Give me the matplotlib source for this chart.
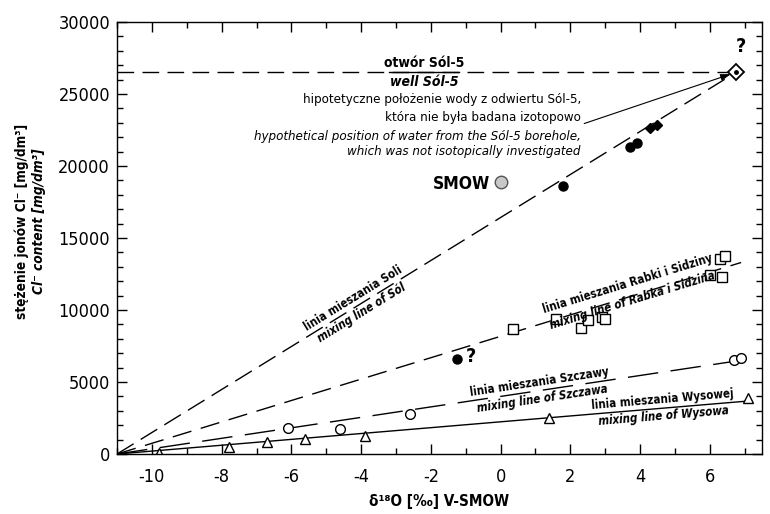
import numpy as np
import matplotlib
matplotlib.use("Agg")
import matplotlib.pyplot as plt
from matplotlib import font_manager
from matplotlib.ticker import MultipleLocator

# pick a narrow sans font if one is installed
names = {f.name for f in font_manager.fontManager.ttflist}
condensed = [f for f in font_manager.fontManager.ttflist
             if "condensed" in f.fname.lower() or "narrow" in f.fname.lower()]
if "Liberation Sans Narrow" in names:
    FONT = ["Liberation Sans Narrow", "DejaVu Sans"]
    STRETCH = "normal"
elif any(f.name == "DejaVu Sans" for f in condensed):
    FONT = ["DejaVu Sans"]
    STRETCH = "condensed"
else:
    FONT = ["Liberation Sans", "DejaVu Sans"]
    STRETCH = "normal"
plt.rcParams["font.family"] = FONT
plt.rcParams["font.stretch"] = STRETCH
plt.rcParams["axes.unicode_minus"] = False

# --- data ---
# Sól (filled circles / filled diamonds)
sol_circ_x = [1.8, 3.7, 3.9]
sol_circ_y = [18600, 21300, 21600]
sol_diam_x = [4.3, 4.5]
sol_diam_y = [22650, 22850]
sol5_x, sol5_y = 6.75, 26500          # hypothetical Sól-5 position
unk_x, unk_y = -1.25, 6600            # filled circle with "?"
smow_x, smow_y = 0.0, 18900

# Rabka i Sidzina (open squares)
rab_x = [0.35, 1.6, 2.3, 2.5, 2.9, 3.0, 6.0, 6.35, 6.3, 6.45]
rab_y = [8700, 9400, 8750, 9300, 9500, 9400, 12450, 12300, 13550, 13750]

# Szczawa (open circles)
szc_x = [-6.1, -4.6, -2.6, 6.7, 6.9]
szc_y = [1800, 1750, 2800, 6550, 6700]

# Wysowa (open triangles)
wys_x = [-9.8, -7.8, -6.7, -5.6, -3.9, 1.4, 7.1]
wys_y = [100, 500, 800, 1050, 1250, 2500, 3900]

# mixing lines: common start and end points
mix_start = (-11.0, 0)
sol_end = (6.75, 26500)
rab_end = (6.9, 13300)
szc_end = (7.1, 6580)
wys_end = (7.2, 3700)

fig = plt.figure(figsize=(7.7, 5.14), dpi=100)
ax = fig.add_axes([0.152, 0.1167, 0.8377, 0.8405])
ax.set_xlim(-11, 7.5)
ax.set_ylim(0, 30000)

# mixing lines
ax.plot([mix_start[0], sol_end[0]], [mix_start[1], sol_end[1]], color="black", lw=1.0, dashes=(14, 6))
ax.plot([mix_start[0], rab_end[0]], [mix_start[1], rab_end[1]], color="black", lw=1.0, dashes=(14, 7))
ax.plot([mix_start[0], szc_end[0]], [mix_start[1], szc_end[1]], color="black", lw=1.0, dashes=(22, 9))
ax.plot([mix_start[0], wys_end[0]], [mix_start[1], wys_end[1]], color="black", lw=1.0)

# horizontal line for well Sól-5
ax.plot([-11, sol5_x], [sol5_y, sol5_y], color="black", lw=1.0, dashes=(12, 6))
ax.plot([-3.2, -1.2], [sol5_y, sol5_y], color="black", lw=1.0)

# points
ax.plot(sol_circ_x, sol_circ_y, "o", color="black", ms=6.5)
ax.plot(sol_diam_x, sol_diam_y, "D", color="black", ms=5.5)
ax.plot(unk_x, unk_y, "o", color="black", ms=6.5)
ax.plot(rab_x, rab_y, "s", mfc="white", mec="black", ms=6.5, mew=1.0)
ax.plot(szc_x, szc_y, "o", mfc="white", mec="black", ms=7, mew=1.0)
ax.plot(wys_x, wys_y, "^", mfc="white", mec="black", ms=7, mew=1.0)
ax.plot(smow_x, smow_y, "o", mfc="#c8c8c8", mec="#555555", ms=9, mew=1.0)
ax.plot(sol5_x, sol5_y, "D", mfc="white", mec="black", ms=8.5, mew=1.3)
ax.plot(sol5_x, sol5_y, "o", color="black", ms=2.5)

ax.text(6.9, 28300, "?", fontsize=14, fontweight="bold", ha="center", va="center")
ax.text(-0.85, 6800, "?", fontsize=14, fontweight="bold", ha="center", va="center")
ax.text(-0.3, 18750, "SMOW", fontsize=12.5, fontweight="bold", ha="right", va="center")

# well Sól-5 annotation
ax.text(-2.18, 26650, "otwór Sól-5", fontsize=10, fontweight="bold", ha="center", va="bottom")
ax.text(-2.18, 25800, "well Sól-5", fontsize=10, fontweight="bold", style="italic", ha="center", va="center")
ax.text(2.3, 24620, "hipotetyczne położenie wody z odwiertu Sól-5,", fontsize=9.5, ha="right", va="center")
ax.text(2.3, 23380, "która nie była badana izotopowo", fontsize=9.5, ha="right", va="center")
ax.text(2.3, 22080, "hypothetical position of water from the Sól-5 borehole,", fontsize=9.5,
        style="italic", ha="right", va="center")
ax.text(2.3, 20980, "which was not isotopically investigated", fontsize=9.5, style="italic",
        ha="right", va="center")
ax.annotate("", xy=(6.6, 26380), xytext=(2.4, 22950),
            arrowprops=dict(arrowstyle="-|>,head_length=0.6,head_width=0.2", color="black", lw=0.8,
                            shrinkA=0, shrinkB=0))


def line_label(end, xpos, top, bottom, gap=6, shift=0.0):
    slope = (end[1] - mix_start[1]) / (end[0] - mix_start[0])
    ypos = mix_start[1] + slope * (xpos - mix_start[0])
    p1 = ax.transData.transform(mix_start)
    p2 = ax.transData.transform(end)
    ang = np.degrees(np.arctan2(p2[1] - p1[1], p2[0] - p1[0]))
    nx, ny = -np.sin(np.radians(ang)), np.cos(np.radians(ang))
    ax.annotate(top, (xpos, ypos), xytext=(nx * (gap + shift), ny * (gap + shift)),
                textcoords="offset points", rotation=ang, rotation_mode="anchor",
                ha="center", va="center", fontsize=8.3, fontweight="bold")
    ax.annotate(bottom, (xpos, ypos), xytext=(nx * (shift - gap), ny * (shift - gap)),
                textcoords="offset points", rotation=ang, rotation_mode="anchor",
                ha="center", va="center", fontsize=8.3, fontweight="bold", style="italic")


line_label(sol_end, -4.1, "linia mieszania Soli", "mixing line of Sól")
line_label(rab_end, 3.75, "linia mieszania Rabki i Sidziny", "mixing line of Rabka i Sidzina", shift=3)
line_label(szc_end, 1.15, "linia mieszania Szczawy", "mixing line of Szczawa")
line_label(wys_end, 4.66, "linia mieszania Wysowej", "mixing line of Wysowa")

# axes styling
ax.xaxis.set_major_locator(MultipleLocator(2))
ax.xaxis.set_minor_locator(MultipleLocator(1))
ax.yaxis.set_major_locator(MultipleLocator(5000))
ax.yaxis.set_minor_locator(MultipleLocator(1000))
ax.tick_params(which="both", direction="in", top=True, right=True, labelsize=13, width=1.0)
ax.tick_params(which="major", length=7)
ax.tick_params(which="minor", length=4)
ax.tick_params(axis="x", which="major", pad=10)
ax.tick_params(axis="y", which="major", pad=5)
for s in ax.spines.values():
    s.set_linewidth(1.0)

ax.set_xlabel("δ¹⁸O [‰] V-SMOW", fontsize=11, fontweight="bold", labelpad=6)
fig.text(22 / 770, 1 - 221 / 514, "stężenie jonów Cl⁻ [mg/dm³]", rotation=90, fontsize=9.8,
         fontweight="bold", ha="center", va="center")
fig.text(39 / 770, 1 - 221 / 514, "Cl⁻ content [mg/dm³]", rotation=90, fontsize=9.8,
         fontweight="bold", style="italic", ha="center", va="center")

fig.savefig("out.png", dpi=100)
